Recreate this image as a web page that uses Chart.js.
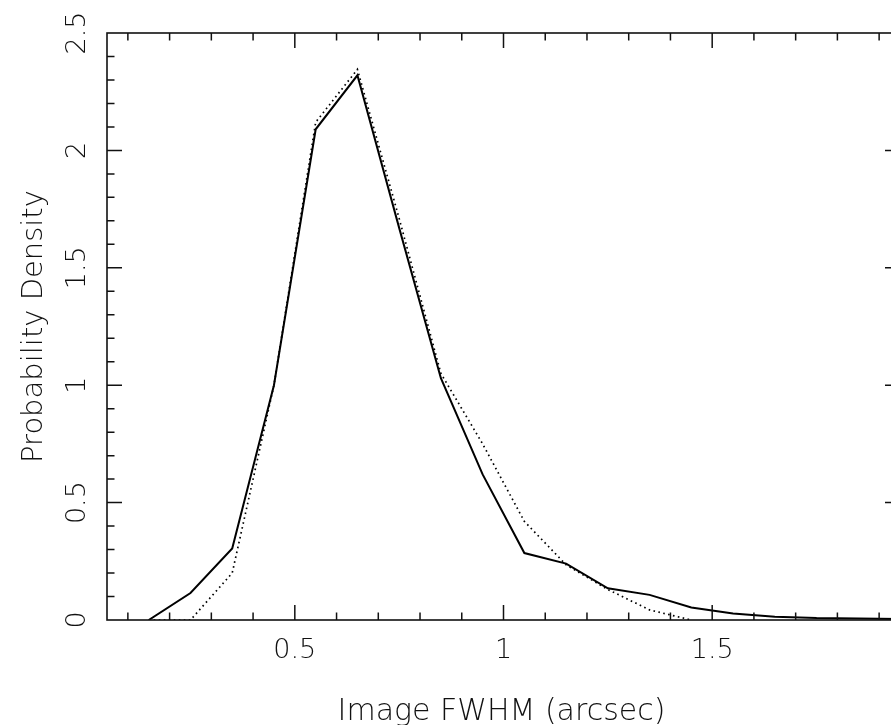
<!DOCTYPE html>
<html>
<head>
<meta charset="utf-8">
<script src="https://cdn.jsdelivr.net/npm/chart.js@4/dist/chart.umd.min.js"></script>
<style>
	html, body { margin: 0; padding: 0; background: #fff; overflow: hidden; }
	#fwhmChart { display: block; }
</style>
</head>
<body>
<canvas id="fwhmChart" width="905" height="725"></canvas>
<script>
// bin centres (arcsec)
var fwhmBins = [0.15, 0.25, 0.35, 0.45, 0.55, 0.65, 0.75, 0.85, 0.95, 1.05, 1.15, 1.25, 1.35, 1.45, 1.55, 1.65, 1.75, 1.85, 1.95];
// measured distribution (solid)
var measuredDensity = [0, 0.115, 0.305, 1.0, 2.09, 2.32, 1.67, 1.03, 0.62, 0.285, 0.24, 0.135, 0.107, 0.053, 0.028, 0.014, 0.008, 0.006, 0.004];
// comparison distribution (dotted), stops at 1.45
var modelDensity = [0, 0, 0.2, 1.0, 2.12, 2.345, 1.71, 1.05, 0.75, 0.42, 0.235, 0.13, 0.043, 0, null, null, null, null, null];

var xMajorTicks = [0.5, 1, 1.5];
var xTickLabels = ["0.5", "1", "1.5"];
var yMajorTicks = [0, 0.5, 1, 1.5, 2, 2.5];
var yTickLabels = ["0", "0.5", "1", "1.5", "2", "2.5"];
var xMinorStep = 0.1;
var yMinorStep = 0.1;

var xTitle = "Image FWHM (arcsec)";
var yTitle = "Probability Density";

var FONT_FAMILY = '"DejaVu Sans", "Liberation Sans", sans-serif';

function toPoints(xs, ys) {
	var pts = new Array();
	xs.forEach(function(x, i) {
		if (ys[i] !== null) {
			pts.push({ x: x, y: ys[i] });
		}
	});
	return pts;
}

// frame, inward ticks and text, drawn through the chart's own scales
var framePlugin = {
	id: "pgFrame",
	afterDraw: function(chart) {
		var ctx = chart.ctx;
		var area = chart.chartArea;
		var xs = chart.scales.x;
		var ys = chart.scales.y;
		var i, v, px, py, len;

		ctx.save();
		ctx.strokeStyle = "#111";
		ctx.lineWidth = 1.6;
		ctx.strokeRect(area.left, area.top, area.right - area.left, area.bottom - area.top);

		ctx.lineWidth = 1.5;
		ctx.beginPath();
		for (i = 1; i * xMinorStep < xs.max; i++) {
			v = Math.round(i * xMinorStep * 100) / 100;
			if (v <= xs.min) continue;
			px = xs.getPixelForValue(v);
			len = xMajorTicks.indexOf(v) >= 0 ? 15 : 7.5;
			ctx.moveTo(px, area.bottom);
			ctx.lineTo(px, area.bottom - len);
			ctx.moveTo(px, area.top);
			ctx.lineTo(px, area.top + len);
		}
		for (i = 1; i * yMinorStep < ys.max; i++) {
			v = Math.round(i * yMinorStep * 100) / 100;
			py = ys.getPixelForValue(v);
			len = yMajorTicks.indexOf(v) >= 0 ? 15 : 7.5;
			ctx.moveTo(area.left, py);
			ctx.lineTo(area.left + len, py);
			ctx.moveTo(area.right, py);
			ctx.lineTo(area.right - len, py);
		}
		ctx.stroke();

		ctx.fillStyle = "#111";
		ctx.font = "200 27px " + FONT_FAMILY;
		ctx.textAlign = "center";
		ctx.textBaseline = "alphabetic";
		xMajorTicks.forEach(function(t, k) {
			ctx.fillText(xTickLabels[k], xs.getPixelForValue(t), 658);
		});

		yMajorTicks.forEach(function(t, k) {
			ctx.save();
			ctx.translate(85, ys.getPixelForValue(t));
			ctx.rotate(-Math.PI / 2);
			ctx.fillText(yTickLabels[k], 0, 0);
			ctx.restore();
		});

		ctx.font = "200 30px " + FONT_FAMILY;
		ctx.fillText(xTitle, (area.left + area.right) / 2 - 2, 720);

		ctx.font = "200 29px " + FONT_FAMILY;
		ctx.save();
		ctx.translate(42, (area.top + area.bottom) / 2);
		ctx.rotate(-Math.PI / 2);
		ctx.fillText(yTitle, 0, 0);
		ctx.restore();

		ctx.restore();
	}
};

var _config = {
	type: "line",
	data: {
		datasets: [
			{
				data: toPoints(fwhmBins, measuredDensity),
				borderColor: "#000",
				borderWidth: 2,
				pointRadius: 0,
				fill: false,
				tension: 0
			},
			{
				data: toPoints(fwhmBins, modelDensity),
				borderColor: "#000",
				borderWidth: 1.7,
				borderDash: [1.6, 3.4],
				pointRadius: 0,
				fill: false,
				tension: 0
			}
		]
	},
	options: {
		responsive: false,
		animation: false,
		layout: { padding: { left: 107, right: 5, top: 33, bottom: 105 } },
		plugins: {
			legend: { display: false },
			tooltip: { enabled: false }
		},
		scales: {
			x: { type: "linear", min: 0.05, max: 1.95, display: false },
			y: { type: "linear", min: 0, max: 2.5, display: false }
		}
	},
	plugins: [framePlugin]
};

var myChart = new Chart(document.getElementById("fwhmChart"), _config);
</script>
</body>
</html>
